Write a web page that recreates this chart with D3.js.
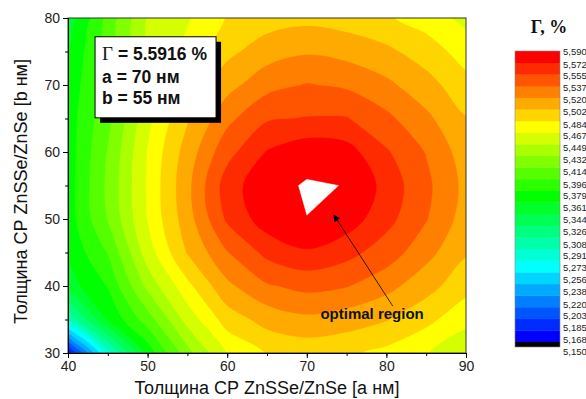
<!DOCTYPE html>
<html>
<head>
<meta charset="utf-8">
<script src="https://cdn.jsdelivr.net/npm/d3@7"></script>
<style>
body { margin: 0; background: #fff; }
svg { display: block; font-family: "Liberation Sans", Arial, sans-serif; }
</style>
</head>
<body>
<svg id="chart" width="586" height="399"></svg>
<script>
// grid of layer thicknesses (nm)
const aValues = [40, 45, 50, 55, 60, 65, 70, 75, 80, 85, 90]
const bValues = [80, 75, 70, 65, 60, 55, 50, 45, 40, 35, 30]

// Γ, % along each row of b
const row80 = [5.349, 5.402, 5.451, 5.465, 5.485, 5.493, 5.497, 5.493, 5.486, 5.476, 5.462]
const row75 = [5.362, 5.403, 5.453, 5.472, 5.497, 5.512, 5.518, 5.514, 5.506, 5.493, 5.476]
const row70 = [5.367, 5.405, 5.456, 5.486, 5.514, 5.531, 5.538, 5.534, 5.524, 5.509, 5.490]
const row65 = [5.370, 5.409, 5.462, 5.500, 5.532, 5.553, 5.556, 5.556, 5.541, 5.524, 5.503]
const row60 = [5.370, 5.415, 5.468, 5.510, 5.549, 5.573, 5.583, 5.579, 5.557, 5.536, 5.511]
const row55 = [5.370, 5.418, 5.469, 5.515, 5.564, 5.584, 5.5916, 5.5896, 5.566, 5.541, 5.515]
const row50 = [5.370, 5.415, 5.468, 5.512, 5.558, 5.581, 5.5898, 5.581, 5.561, 5.538, 5.512]
const row45 = [5.365, 5.397, 5.458, 5.503, 5.536, 5.560, 5.570, 5.561, 5.546, 5.526, 5.504]
const row40 = [5.352, 5.380, 5.437, 5.479, 5.516, 5.535, 5.542, 5.538, 5.526, 5.509, 5.490]
const row35 = [5.293, 5.363, 5.405, 5.456, 5.492, 5.509, 5.516, 5.511, 5.503, 5.489, 5.472]
const row30 = [5.155, 5.282, 5.367, 5.425, 5.468, 5.485, 5.490, 5.487, 5.479, 5.468, 5.453]

// contour levels shown on the colour scale
const legendLevels = [5.150, 5.168, 5.185, 5.203, 5.220, 5.238, 5.256, 5.273, 5.291,
	5.308, 5.326, 5.344, 5.361, 5.379, 5.396, 5.414, 5.432, 5.449, 5.467, 5.484,
	5.502, 5.520, 5.537, 5.555, 5.572, 5.590]

const xTicks = [40, 50, 60, 70, 80, 90]
const yTicks = [30, 40, 50, 60, 70, 80]

const svg = d3.select('#chart')

// plot area
const margin = { top: 18, right: 120, bottom: 46, left: 68 }
const width = 586 - margin.left - margin.right
const height = 399 - margin.top - margin.bottom

const x = d3.scaleLinear().domain([40, 90]).range([0, width])
const y = d3.scaleLinear().domain([30, 80]).range([height, 0])

const g = svg.append('g')
	.attr('transform', `translate(${margin.left}, ${margin.top})`)

g.append('clipPath').attr('id', 'clip')
	.append('rect').attr('width', width).attr('height', height)

// colours of the bands, lowest first
const nBands = legendLevels.length - 1
const bandColor = d3.scaleLinear()
	.domain([0, 6, 12, 18, 24])
	.range(['#0000ff', '#00ffff', '#00ff00', '#ffff00', '#ff0000'])
const fillFor = i => i >= nBands ? '#ffffff' : bandColor(i)

// contours on the grid
const values = [row80, row75, row70, row65, row60, row55, row50, row45, row40, row35, row30].flat()
const contours = d3.contours()
	.size([aValues.length, bValues.length])
	.thresholds(legendLevels)(values)

// grid index -> data -> pixels
const ia = d3.scaleLinear().domain([0, aValues.length - 1]).range([aValues[0], aValues[aValues.length - 1]])
const ib = d3.scaleLinear().domain([0, bValues.length - 1]).range([bValues[0], bValues[bValues.length - 1]])
const toPx = p => [x(ia(p[0] - 0.5)), y(ib(p[1] - 0.5))]

const smooth = d3.line().curve(d3.curveCatmullRomClosed.alpha(0.5))
const sharp = d3.line()
const ringPath = (c, i) => c.coordinates
	.map(poly => poly.map(ring => {
		const pts = ring.slice(0, -1).map(toPx)
		return i >= nBands ? sharp(pts) + 'Z' : smooth(pts)
	}).join(''))
	.join('')

const map = g.append('g').attr('clip-path', 'url(#clip)')
map.append('rect').attr('width', width).attr('height', height).attr('fill', '#000')
map.selectAll('path')
	.data(contours)
	.join('path')
	.attr('d', ringPath)
	.attr('fill-rule', 'evenodd')
	.attr('fill', (d, i) => fillFor(i))
	.attr('stroke', (d, i) => fillFor(i))
	.attr('stroke-width', 0.3)

// frame
g.append('rect')
	.attr('width', width).attr('height', height)
	.attr('fill', 'none').attr('stroke', '#333').attr('stroke-width', 1)

// axes
g.append('g')
	.attr('transform', `translate(0, ${height})`)
	.call(d3.axisBottom(x).tickValues(xTicks).tickSize(5).tickPadding(3))
g.append('g')
	.attr('transform', `translate(0, ${height})`)
	.call(d3.axisBottom(x).ticks(10).tickSize(3).tickFormat(''))
	.call(s => s.select('.domain').remove())

g.append('g')
	.call(d3.axisLeft(y).tickValues(yTicks).tickSize(5).tickPadding(3))
g.append('g')
	.call(d3.axisLeft(y).ticks(10).tickSize(3).tickFormat(''))
	.call(s => s.select('.domain').remove())

g.selectAll('.tick text')
	.attr('font-size', 14)
	.attr('font-family', '"Liberation Sans", Arial, sans-serif')
	.attr('fill', '#222')

// axis titles
svg.append('text')
	.attr('x', margin.left + width / 2)
	.attr('y', 394)
	.attr('text-anchor', 'middle')
	.attr('font-size', 18)
	.attr('fill', '#111')
	.text('Толщина СР ZnSSe/ZnSe [а нм]')

svg.append('text')
	.attr('transform', `translate(27, ${margin.top + height / 2 + 6}) rotate(-90)`)
	.attr('text-anchor', 'middle')
	.attr('font-size', 18)
	.attr('fill', '#111')
	.text('Толщина СР ZnSSe/ZnSe [b нм]')

// info box
const box = { a0: 43.4, a1: 58.6, b0: 77.2, b1: 65.1 }
const bx = x(box.a0), by = y(box.b0)
const bw = x(box.a1) - bx, bh = y(box.b1) - by
g.append('rect')
	.attr('x', bx + 5).attr('y', by + 5)
	.attr('width', bw).attr('height', bh)
	.attr('fill', '#000')
g.append('rect')
	.attr('x', bx).attr('y', by)
	.attr('width', bw).attr('height', bh)
	.attr('fill', '#fff').attr('stroke', '#000').attr('stroke-width', 1)

const info = g.append('text')
	.attr('font-size', 17.5)
	.attr('font-weight', 'bold')
	.attr('fill', '#111')
const l1 = info.append('tspan').attr('x', bx + 7).attr('y', by + 23)
l1.append('tspan').attr('font-family', '"Liberation Serif", "Times New Roman", serif').attr('font-weight', 'normal').attr('font-size', 19).text('Γ')
l1.append('tspan').text(' = 5.5916 %')
info.append('tspan').attr('x', bx + 7).attr('y', by + 46).text('a = 70 нм')
info.append('tspan').attr('x', bx + 7).attr('y', by + 67).text('b = 55 нм')

// arrow to the optimum
const arrow = { a0: 80.8, b0: 37.0, a1: 73.4, b1: 50.6 }
svg.append('defs').append('marker')
	.attr('id', 'head')
	.attr('viewBox', '0 0 10 10')
	.attr('refX', 9).attr('refY', 5)
	.attr('markerWidth', 9).attr('markerHeight', 7)
	.attr('markerUnits', 'userSpaceOnUse')
	.attr('orient', 'auto')
	.append('path').attr('d', 'M0,0 L10,5 L0,10 z').attr('fill', '#000')

g.append('line')
	.attr('x1', x(arrow.a0)).attr('y1', y(arrow.b0))
	.attr('x2', x(arrow.a1)).attr('y2', y(arrow.b1))
	.attr('stroke', '#000').attr('stroke-width', 0.8)
	.attr('marker-end', 'url(#head)')

g.append('text')
	.attr('x', x(78.2)).attr('y', y(35.1))
	.attr('text-anchor', 'middle')
	.attr('font-size', 15)
	.attr('font-weight', 'bold')
	.attr('fill', '#111')
	.text('optimal region')

// colour scale
const legend = svg.append('g')
const lx = 515, lw = 45
const bandY = d3.scaleBand()
	.domain(d3.range(nBands).reverse())
	.range([51, 342])
	.paddingInner(0)

legend.selectAll('rect.band')
	.data(d3.range(nBands))
	.join('rect')
	.attr('class', 'band')
	.attr('x', lx).attr('width', lw)
	.attr('y', d => bandY(d))
	.attr('height', bandY.bandwidth() + 0.4)
	.attr('fill', d => bandColor(d))
legend.append('rect')
	.attr('x', lx).attr('width', lw)
	.attr('y', 342).attr('height', 5)
	.attr('fill', '#000')
legend.append('rect')
	.attr('x', lx).attr('width', lw)
	.attr('y', 51).attr('height', 296)
	.attr('fill', 'none').attr('stroke', '#888').attr('stroke-width', 0.6)

const labelY = d3.scaleLinear()
	.domain([legendLevels[0], legendLevels[legendLevels.length - 1]])
	.range([352, 52])
const fmt = d3.format('.3f')
legend.selectAll('text.lvl')
	.data(legendLevels)
	.join('text')
	.attr('class', 'lvl')
	.attr('x', 563)
	.attr('y', d => labelY(d))
	.attr('dy', '0.35em')
	.attr('font-size', 9.5)
	.attr('fill', '#222')
	.text(d => fmt(d).replace('.', ','))

legend.append('text')
	.attr('x', 549)
	.attr('y', 33)
	.attr('text-anchor', 'middle')
	.attr('font-family', '"Liberation Serif", "Times New Roman", serif')
	.attr('font-weight', 'bold')
	.attr('font-size', 18)
	.attr('fill', '#111')
	.text('Γ, %')
</script>
</body>
</html>
